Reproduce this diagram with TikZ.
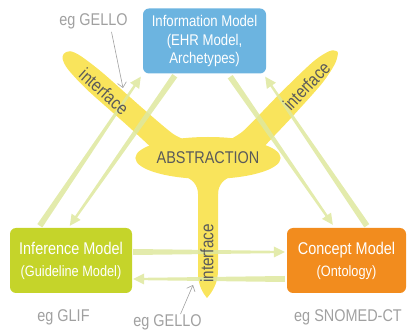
\documentclass[tikz,border=0pt]{standalone}
\usepackage{fontspec}
\setmainfont{Liberation Sans}
\newfontfamily\cond[FakeStretch=0.85]{Liberation Sans}
\usetikzlibrary{calc, arrows.meta, shapes.geometric}
\definecolor{infoblue}{RGB}{108,180,224}
\definecolor{infgreen}{RGB}{197,212,42}
\definecolor{conorange}{RGB}{242,140,30}
\definecolor{flowgreen}{RGB}{222,232,158}
\definecolor{abstryellow}{RGB}{249,228,92}
\definecolor{labelgray}{RGB}{160,160,160}
\definecolor{textgray}{RGB}{90,90,90}

% tapered arrow: thick at the tail, thin near the head
\newcommand{\flowarrow}[2]{%
  \coordinate (ta) at #1;
  \coordinate (hd) at #2;
  \coordinate (hb) at ($(hd)!11pt!(ta)$);
  \fill[flow] ($(ta)!3pt!90:(hd)$) -- ($(hb)!1.2pt!-90:(ta)$) -- ($(hb)!5.5pt!-90:(ta)$)
    -- (hd) -- ($(hb)!5.5pt!90:(ta)$) -- ($(hb)!1.2pt!90:(ta)$) -- ($(ta)!3pt!-90:(hd)$) -- cycle;
}

\begin{document}
\begin{tikzpicture}[x=1pt,y=1pt]
\tikzset{model/.style = {rounded corners=6pt, text=white, align=center, inner sep=0pt, minimum height=65pt}}
\tikzset{flow/.style = {fill=flowgreen, opacity=0.85}}
\tikzset{abstr/.style = {fill=abstryellow}}
\tikzset{egnote/.style = {text=labelgray, inner sep=0pt, font=\cond\fontsize{17}{20}\selectfont}}
\tikzset{iface/.style = {text=textgray, inner sep=0pt, font=\cond\fontsize{18}{20}\selectfont}}
\tikzset{pointer/.style = {draw=labelgray, line width=0.6pt, -{Straight Barb[length=5pt,width=9pt]}}}
\useasboundingbox (0,0) rectangle (407,332);

% models
\node[model, fill=infoblue, minimum width=123pt, font=\cond\fontsize{15.5}{18.5}\selectfont] (info) at (204.5,291)
  {Information Model\\(EHR Model,\\Archetypes)};
\node[model, fill=infgreen, minimum width=122pt, font=\cond\fontsize{17}{20}\selectfont] (inf) at (71,71.5)
  {Inference Model\\[2pt]{\fontsize{15}{18}\selectfont(Guideline Model)}};
\node[model, fill=conorange, minimum width=119pt, font=\cond\fontsize{17}{20}\selectfont] (con) at (346.5,71.5)
  {Concept Model\\[2pt]{\fontsize{15}{18}\selectfont(Ontology)}};

% examples
\node[egnote] (gelloa) at (93.5,311) {eg GELLO};
\node[egnote] (glif) at (63.5,15) {eg GLIF};
\node[egnote] (gellob) at (167.5,10) {eg GELLO};
\node[egnote] (snomed) at (348,15) {eg SNOMED-CT};

% abstraction with its three arms
\begin{scope}[shift={(170,184)}, rotate=138.4]
  \fill[abstr] plot[smooth cycle, tension=0.5] coordinates {(-20,-17) (8,-12.5) (50,-11.5) (100,-11.5) (128,-9.5) (139,-6) (142,0) (139,5) (128,9) (100,11.5) (50,11.5) (8,12.5) (-20,17)};
\end{scope}
\begin{scope}[shift={(248,187)}, rotate=46.3]
  \fill[abstr] plot[smooth cycle, tension=0.5] coordinates {(-20,-17) (8,-13) (50,-12.5) (95,-11) (118,-7) (128,-2) (129,1) (124,6) (105,10.5) (60,12.5) (8,13) (-20,17)};
\end{scope}
\fill[abstr] (198,165) -- (198,60) .. controls (198,46) and (203,39) .. (207,34)
  .. controls (212,40) and (218,48) .. (218,62) -- (218,165) -- cycle;
\fill[abstr] (183,156) to[out=-15,in=90] (198,138) -- (218,138) to[out=90,in=195] (233,156) -- (208,165) -- cycle;
\node[ellipse, abstr, minimum width=128pt, minimum height=42pt, inner sep=0pt, text=textgray,
  font=\cond\fontsize{17}{20}\selectfont] (abs) at (208,174) {ABSTRACTION};

% flows between the models
\coordinate (a1) at ($(inf.north west)+(30,2)$);
\coordinate (a2) at ($(info.south west)+(-2,-3)$);
\coordinate (b1) at ($(info.south west)+(32,-2)$);
\coordinate (b2) at ($(inf.north west)+(60,2)$);
\coordinate (c1) at ($(info.south east)+(-36,-3)$);
\coordinate (c2) at ($(con.north west)+(46,3)$);
\coordinate (d1) at ($(con.north west)+(80,2)$);
\coordinate (d2) at ($(info.south east)+(-1,-3)$);
\coordinate (e1) at ($(inf.east)+(1,8.5)$);
\coordinate (e2) at ($(con.west)+(-2,8.5)$);
\coordinate (f1) at ($(con.west)+(-2,-18.5)$);
\coordinate (f2) at ($(inf.east)+(1,-18.5)$);
\flowarrow{(a1)}{(a2)}
\flowarrow{(b1)}{(b2)}
\flowarrow{(c1)}{(c2)}
\flowarrow{(d1)}{(d2)}
\flowarrow{(e1)}{(e2)}
\flowarrow{(f1)}{(f2)}

% interface labels
\node[iface, rotate=-41.6] (ifl) at (104,240.5) {interface};
\node[iface, rotate=46.3] (ifr) at (306.5,246) {interface};
\node[iface, rotate=90] (ifb) at (207,78.5) {interface};

% pointers
\coordinate (pa) at (123,244);
\coordinate (pb) at (193,47);
\draw[pointer] ($(gelloa.south)+(18,-3)$) -- (pa);
\draw[pointer] ($(gellob.north)+(13,0)$) -- (pb);
\end{tikzpicture}
\end{document}
